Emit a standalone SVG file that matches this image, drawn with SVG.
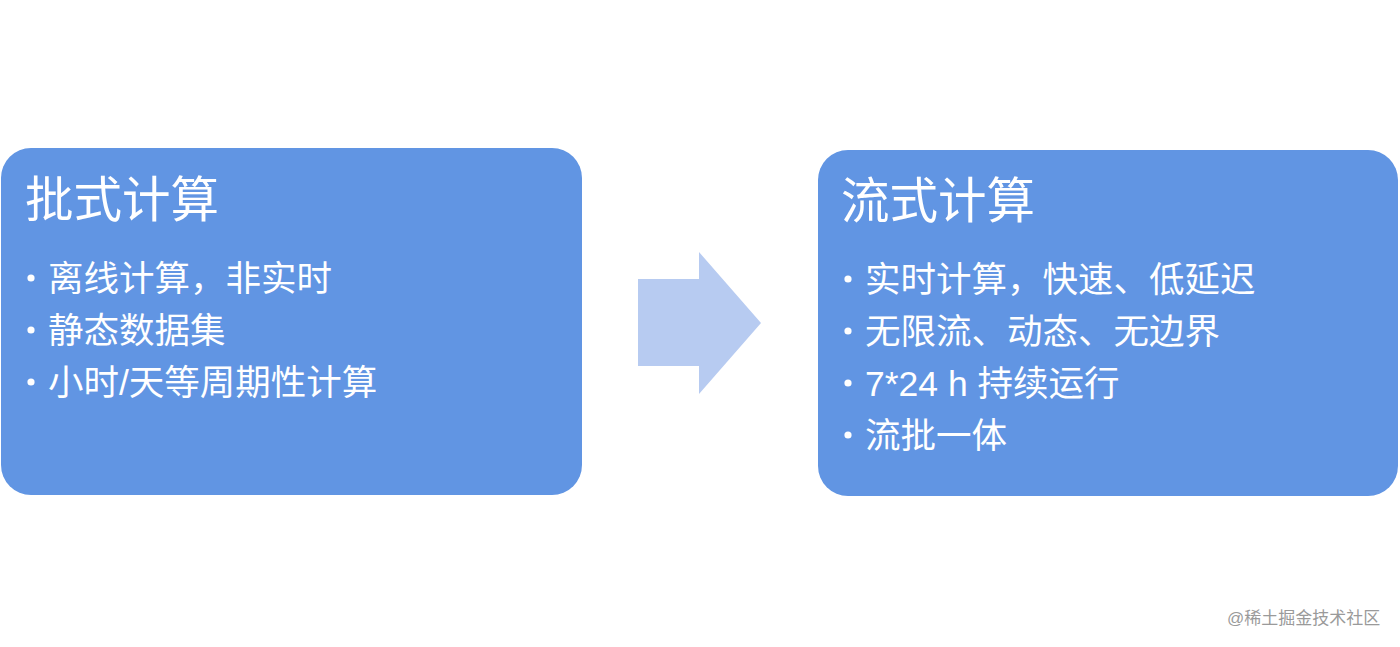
<svg xmlns="http://www.w3.org/2000/svg" width="1400" height="647" viewBox="0 0 1400 647">
<style>
.box{fill:#6195e3}
.title{font-family:"Liberation Sans","Noto Sans CJK SC",sans-serif;font-size:48.5px;fill:#ffffff}
.item{font-family:"Liberation Sans","Noto Sans CJK SC",sans-serif;font-size:35.5px;fill:#ffffff}
.dot{fill:#ffffff}
.wm{font-family:"Liberation Sans","Noto Sans CJK SC",sans-serif;font-size:17px;fill:#9a9a9a}
</style>
<rect width="1400" height="647" fill="#ffffff"/>
<g id="batch">
<rect class="box" x="1" y="148" width="581" height="347" rx="30"/>
<text class="title" x="25" y="217">批式计算</text>
<circle class="dot" cx="31" cy="278" r="3.6"/>
<text class="item" x="48" y="291">离线计算，非实时</text>
<circle class="dot" cx="31" cy="330" r="3.6"/>
<text class="item" x="48" y="343">静态数据集</text>
<circle class="dot" cx="31" cy="382" r="3.6"/>
<text class="item" x="48" y="395">小时/天等周期性计算</text>
</g>
<g id="connectors">
<polygon points="638,279 699,279 699,252 761,323 699,394 699,366 638,366" fill="#b7cbf1"/>
</g>
<g id="stream">
<rect class="box" x="818" y="150" width="580" height="346" rx="30"/>
<text class="title" x="841" y="218">流式计算</text>
<circle class="dot" cx="848" cy="279" r="3.6"/>
<text class="item" x="865" y="292">实时计算，快速、低延迟</text>
<circle class="dot" cx="848" cy="331" r="3.6"/>
<text class="item" x="865" y="344">无限流、动态、无边界</text>
<circle class="dot" cx="848" cy="383" r="3.6"/>
<text class="item" x="865" y="396">7*24 h 持续运行</text>
<circle class="dot" cx="848" cy="435" r="3.6"/>
<text class="item" x="865" y="448">流批一体</text>
</g>
<text class="wm" x="1227" y="624">@稀土掘金技术社区</text>
</svg>
